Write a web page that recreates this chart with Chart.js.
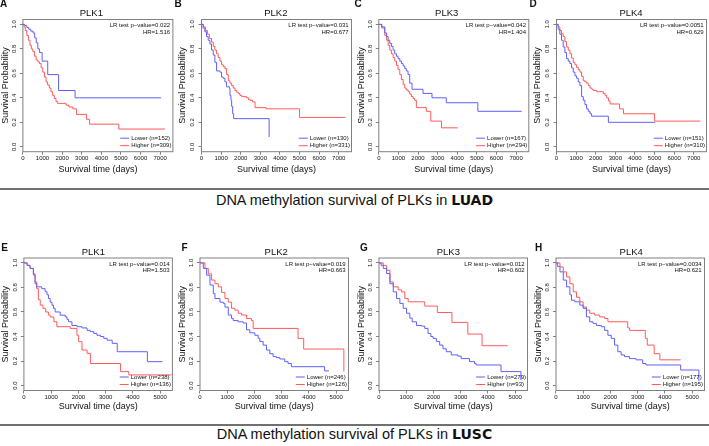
<!DOCTYPE html>
<html><head><meta charset="utf-8">
<script src="https://cdn.jsdelivr.net/npm/chart.js@4.4.0/dist/chart.umd.min.js"></script>
<style>
html,body{margin:0;padding:0;background:#fff;}
body{width:709px;height:446px;position:relative;overflow:hidden;font-family:'Liberation Sans',Arial,Helvetica,sans-serif;color:#111;}
canvas{position:absolute;}
.c{position:absolute;transform:translate(-50%,-50%);white-space:nowrap;line-height:1;}
.ttl{font-size:9.5px;}
.let{font-size:10px;font-weight:bold;}
.cap{position:absolute;left:0;width:709px;text-align:center;font-size:14.5px;line-height:16px;white-space:nowrap;}
.cap b{font-family:'DejaVu Sans',sans-serif;font-weight:bold;font-size:14px;}
.sep{position:absolute;left:0;width:709px;height:2px;background:#707070;}
</style></head><body>
<div class="sep" style="top:188px"></div>
<div class="cap" style="top:192px">DNA methylation survival of PLKs in <b>LUAD</b></div>
<div class="sep" style="top:424px"></div>
<div class="cap" style="top:426px">DNA methylation survival of PLKs in <b>LUSC</b></div>
<script>
// ---- tick labels ----
const yTicks = [0, 0.2, 0.4, 0.6, 0.8, 1.0];
const luadTicksX = [0, 1000, 2000, 3000, 4000, 5000, 6000, 7000];
const luscTicksX = [0, 1000, 2000, 3000, 4000, 5000];

// ---- panel labels & statistics ----
const panelLetters = ['A','B','C','D','E','F','G','H'];
const genes = ['PLK1','PLK2','PLK3','PLK4'];
const luadP = ['0.022','0.031','0.042','0.0051'];
const luadHR = ['1.516','0.677','1.404','0.629'];
const luadNLow = [152, 130, 167, 151];
const luadNHigh = [309, 331, 294, 310];
const luscP = ['0.014','0.019','0.012','0.0034'];
const luscHR = ['1.503','0.663','0.602','0.621'];
const luscNLow = [238, 246, 279, 177];
const luscNHigh = [136, 126, 93, 195];

// ---- Kaplan-Meier curves: [time (days), survival probability] ----
const luadPlk1Low = [[0,1],[100,0.99],[200,0.975],[300,0.96],[400,0.945],[520,0.93],[600,0.89],[680,0.85],[760,0.80],[850,0.77],[980,0.70],[1265,0.59],[1820,0.46],[2660,0.40],[7050,0.40]];
const luadPlk1High = [[0,1],[60,0.98],[120,0.95],[200,0.91],[280,0.87],[360,0.83],[430,0.80],[506,0.78],[590,0.74],[675,0.71],[760,0.695],[843,0.68],[930,0.645],[1012,0.61],[1100,0.57],[1180,0.53],[1260,0.505],[1349,0.48],[1430,0.45],[1518,0.42],[1600,0.395],[1686,0.37],[1770,0.355],[2200,0.34],[2350,0.325],[2550,0.31],[2730,0.265],[3240,0.225],[3400,0.185],[4890,0.145],[7250,0.145]];
const luadPlk2Low = [[0,1],[80,0.97],[170,0.94],[256,0.90],[341,0.87],[427,0.84],[512,0.79],[598,0.75],[683,0.69],[768,0.62],[940,0.61],[1024,0.57],[1110,0.56],[1195,0.53],[1280,0.49],[1420,0.48],[1451,0.42],[1502,0.38],[1537,0.33],[1588,0.27],[1639,0.23],[3449,0.08]];
const luadPlk2High = [[0,1],[100,0.98],[200,0.95],[300,0.92],[400,0.885],[512,0.855],[600,0.82],[683,0.79],[768,0.76],[854,0.73],[940,0.70],[1024,0.67],[1110,0.655],[1195,0.64],[1280,0.59],[1366,0.54],[1450,0.52],[1537,0.50],[1620,0.48],[1707,0.46],[1800,0.445],[1878,0.435],[1960,0.42],[2049,0.41],[2300,0.40],[2400,0.385],[2476,0.38],[2600,0.367],[2732,0.32],[3300,0.31],[5000,0.24],[7340,0.24]];
const luadPlk3Low = [[0,1],[150,0.98],[305,0.93],[400,0.90],[475,0.87],[560,0.845],[644,0.82],[730,0.79],[813,0.76],[900,0.74],[983,0.72],[1070,0.70],[1153,0.68],[1240,0.66],[1322,0.64],[1400,0.62],[1490,0.59],[1576,0.52],[1695,0.47],[2254,0.436],[2712,0.40],[3441,0.36],[5050,0.29],[7288,0.29]];
const luadPlk3High = [[0,1],[150,0.97],[305,0.91],[400,0.87],[475,0.83],[560,0.79],[644,0.76],[730,0.73],[813,0.70],[900,0.665],[983,0.63],[1070,0.59],[1153,0.55],[1240,0.51],[1322,0.48],[1400,0.465],[1490,0.45],[1580,0.43],[1661,0.41],[1750,0.395],[1830,0.38],[1915,0.32],[2424,0.29],[2650,0.21],[3200,0.155],[4030,0.155]];
const luadPlk4Low = [[0,1],[85,0.96],[170,0.92],[256,0.87],[341,0.815],[427,0.77],[512,0.72],[600,0.70],[683,0.68],[768,0.645],[854,0.61],[940,0.58],[1024,0.56],[1110,0.53],[1195,0.50],[1280,0.41],[1366,0.38],[1450,0.345],[1537,0.31],[1620,0.29],[1707,0.27],[1790,0.25],[2646,0.20],[5036,0.20]];
const luadPlk4High = [[0,1],[85,0.98],[170,0.95],[256,0.925],[341,0.90],[427,0.86],[512,0.815],[600,0.79],[683,0.76],[768,0.725],[854,0.69],[940,0.67],[1024,0.65],[1110,0.63],[1195,0.61],[1280,0.575],[1366,0.54],[1450,0.53],[1537,0.52],[1620,0.50],[1707,0.48],[1800,0.47],[1878,0.46],[2049,0.45],[2390,0.435],[2480,0.42],[2561,0.40],[2650,0.375],[2732,0.35],[3210,0.31],[3415,0.27],[5003,0.21],[7340,0.21]];
const luscPlk1Low = [[0,1],[120,0.98],[225,0.955],[348,0.91],[409,0.83],[471,0.805],[655,0.79],[778,0.765],[850,0.74],[902,0.71],[963,0.68],[1030,0.655],[1086,0.63],[1148,0.60],[1332,0.574],[1517,0.56],[1580,0.54],[1640,0.52],[1763,0.49],[1948,0.48],[2132,0.47],[2317,0.45],[2440,0.44],[2563,0.425],[2680,0.41],[2809,0.40],[2930,0.385],[3055,0.37],[3240,0.344],[3425,0.276],[4532,0.195],[5086,0.195]];
const luscPlk1High = [[0,1],[120,0.98],[225,0.955],[348,0.90],[409,0.845],[471,0.79],[530,0.70],[600,0.656],[700,0.63],[800,0.60],[900,0.575],[963,0.56],[1100,0.52],[1210,0.48],[1700,0.466],[1948,0.41],[2010,0.358],[2132,0.29],[2317,0.263],[2440,0.18],[3548,0.114],[3850,0.087],[5420,0.087]];
const luscPlk2Low = [[0,1],[122,0.955],[244,0.90],[366,0.82],[488,0.75],[549,0.71],[732,0.68],[854,0.67],[915,0.64],[1037,0.575],[1159,0.547],[1220,0.53],[1402,0.52],[1585,0.51],[1707,0.455],[1829,0.43],[2012,0.41],[2134,0.385],[2195,0.36],[2317,0.33],[2439,0.29],[2561,0.26],[2683,0.236],[2805,0.228],[2927,0.217],[3110,0.195],[3232,0.18],[3354,0.154],[4573,0.12],[4732,0.12]];
const luscPlk2High = [[0,1],[183,0.955],[305,0.91],[427,0.86],[549,0.83],[671,0.805],[793,0.76],[915,0.71],[1037,0.68],[1159,0.63],[1280,0.615],[1402,0.59],[1524,0.575],[1707,0.547],[1890,0.53],[1951,0.466],[3598,0.385],[3805,0.298],[5280,0.114]];
const luscPlk3Low = [[0,1],[80,0.98],[158,0.955],[280,0.913],[401,0.83],[523,0.764],[645,0.71],[766,0.67],[888,0.63],[1010,0.59],[1131,0.55],[1217,0.52],[1375,0.49],[1557,0.485],[1679,0.466],[1800,0.425],[1900,0.40],[1983,0.385],[2105,0.36],[2226,0.33],[2348,0.30],[2470,0.276],[2652,0.25],[2895,0.24],[3017,0.22],[3321,0.195],[3504,0.18],[3564,0.168],[4477,0.114],[5207,0.046]];
const luscPlk3High = [[0,1],[158,0.98],[280,0.94],[401,0.845],[523,0.805],[706,0.78],[827,0.764],[949,0.71],[1070,0.683],[1679,0.648],[2141,0.596],[2676,0.515],[3260,0.42],[3783,0.325],[4720,0.325]];
const luscPlk4Low = [[0,1],[60,0.97],[146,0.927],[267,0.86],[388,0.805],[510,0.74],[570,0.696],[692,0.683],[874,0.656],[995,0.63],[1117,0.56],[1238,0.52],[1359,0.507],[1481,0.49],[1663,0.48],[1784,0.45],[1905,0.41],[2027,0.385],[2148,0.33],[2269,0.276],[2391,0.25],[2512,0.236],[2694,0.22],[2937,0.21],[3180,0.18],[3301,0.168],[4575,0.127],[5243,0.035]];
const luscPlk4High = [[0,1],[146,0.967],[267,0.927],[388,0.886],[510,0.83],[631,0.764],[752,0.72],[874,0.683],[995,0.64],[1117,0.615],[1238,0.59],[1420,0.575],[1602,0.56],[1784,0.547],[1905,0.52],[2633,0.47],[2700,0.45],[3277,0.385],[3350,0.33],[3604,0.26],[3811,0.21],[4575,0.21]];

// ---- layout (positions / styles) ----
const FONT = "'Liberation Sans', Arial, Helvetica, sans-serif";
const BLUE = '#5f5fff', RED = '#ff5a5a', INK = '#111', FRAME = '#808080';
const rows = [
  {cTop:0, cH:178, bTop:19.5, bBot:151.7, bW:150, xmax:7650, xTicks:luadTicksX, xtPad:3.1, titleY:13.3, letterY:3.6},
  {cTop:240, cH:175, bTop:258, bBot:390.5, bW:148.5, xmax:5450, xTicks:luscTicksX, xtPad:2.9, titleY:251.7, letterY:248.4}
];
const panels = [
  {row:0, g:0, boxL:22.9, yw:22.6, titleX:91.3, letterX:3.7, low:luadPlk1Low, high:luadPlk1High},
  {row:0, g:1, boxL:201.5, yw:23.9, titleX:275.8, letterX:178, low:luadPlk2Low, high:luadPlk2High},
  {row:0, g:2, boxL:378.8, yw:23.1, titleX:446.7, letterX:358, low:luadPlk3Low, high:luadPlk3High},
  {row:0, g:3, boxL:556.5, yw:23.9, titleX:631, letterX:533.2, low:luadPlk4Low, high:luadPlk4High},
  {row:1, g:0, boxL:23.9, yw:23.6, titleX:93.3, letterX:4.5, low:luscPlk1Low, high:luscPlk1High},
  {row:1, g:1, boxL:200, yw:22.9, titleX:276.2, letterX:184.5, low:luscPlk2Low, high:luscPlk2High},
  {row:1, g:2, boxL:379, yw:22.7, titleX:448.3, letterX:364, low:luscPlk3Low, high:luscPlk3High},
  {row:1, g:3, boxL:556, yw:23.2, titleX:631.2, letterX:538.7, low:luscPlk4Low, high:luscPlk4High}
];

const framePlugin = {
  id: 'frame',
  beforeDatasetsDraw(chart) {
    const {ctx, chartArea: a} = chart;
    ctx.save();
    ctx.strokeStyle = FRAME; ctx.lineWidth = 1;
    ctx.strokeRect(a.left, a.top, a.right - a.left, a.bottom - a.top);
    ctx.restore();
  }
};
function kmInfoPlugin(info) {
  return {
    id: 'kminfo',
    afterDatasetsDraw(chart) {
      const {ctx, chartArea: a} = chart;
      ctx.save();
      ctx.font = '6px ' + FONT;
      ctx.fillStyle = INK;
      ctx.textBaseline = 'middle';
      ctx.textAlign = 'right';
      ctx.fillText('LR test p\u2212value=' + info.p, a.right - 2.8, a.top + 6);
      ctx.fillText('HR=' + info.hr, a.right - 2.8, a.top + 12.6);
      const l1 = 'Lower (n=' + info.nl + ')', l2 = 'Higher (n=' + info.nh + ')';
      const w = Math.max(ctx.measureText(l1).width, ctx.measureText(l2).width);
      const tx = a.right - 1.5 - w;
      const y1 = a.bottom - 13.5, y2 = a.bottom - 6;
      ctx.textAlign = 'left';
      ctx.fillText(l1, tx, y1);
      ctx.fillText(l2, tx, y2);
      ctx.lineWidth = 1;
      ctx.strokeStyle = BLUE;
      ctx.beginPath(); ctx.moveTo(tx - 11, y1); ctx.lineTo(tx - 2, y1); ctx.stroke();
      ctx.strokeStyle = RED;
      ctx.beginPath(); ctx.moveTo(tx - 11, y2); ctx.lineTo(tx - 2, y2); ctx.stroke();
      ctx.restore();
    }
  };
}

function addText(cls, text, x, y) {
  const d = document.createElement('div');
  d.className = 'c ' + cls;
  d.textContent = text;
  d.style.left = x + 'px';
  d.style.top = y + 'px';
  document.body.appendChild(d);
}

panels.forEach((p, i) => {
  const r = rows[p.row];
  const luad = p.row === 0;
  const info = {
    p: (luad ? luadP : luscP)[p.g], hr: (luad ? luadHR : luscHR)[p.g],
    nl: (luad ? luadNLow : luscNLow)[p.g], nh: (luad ? luadNHigh : luscNHigh)[p.g]
  };
  const startX = p.boxL - p.yw;
  const cLeft = Math.max(0, Math.floor(startX));
  const padL = startX - cLeft;
  const cW = Math.min(709 - cLeft, Math.ceil(p.boxL + r.bW + 2 - cLeft));
  const padR = cW - (p.boxL - cLeft + r.bW);
  const cv = document.createElement('canvas');
  cv.width = cW; cv.height = r.cH;
  cv.style.left = cLeft + 'px'; cv.style.top = r.cTop + 'px';
  cv.style.width = cW + 'px'; cv.style.height = r.cH + 'px';
  document.body.appendChild(cv);

  addText('ttl', genes[p.g], p.titleX, r.titleY);
  addText('let', panelLetters[i], p.letterX, r.letterY);

  const xH = r.cTop + r.cH - r.bBot;
  new Chart(cv, {
    type: 'line',
    data: {
      datasets: [
        {label: 'Lower', data: p.low.map(d => ({x: d[0], y: d[1]})), borderColor: BLUE, borderWidth: 1,
         pointRadius: 0, stepped: 'before', fill: false},
        {label: 'Higher', data: p.high.map(d => ({x: d[0], y: d[1]})), borderColor: RED, borderWidth: 1,
         pointRadius: 0, stepped: 'before', fill: false}
      ]
    },
    options: {
      responsive: false, animation: false, devicePixelRatio: 1, events: [],
      layout: {padding: {left: padL, right: padR, top: r.bTop - r.cTop, bottom: 0}},
      plugins: {legend: {display: false}, tooltip: {enabled: false}, title: {display: false}},
      scales: {
        x: {
          type: 'linear', min: 0, max: r.xmax,
          afterBuildTicks: s => { s.ticks = r.xTicks.map(v => ({value: v})); },
          afterFit: s => { s.height = xH; },
          ticks: {font: {size: 6, family: FONT}, color: INK, padding: 0.5, autoSkip: false,
                  maxRotation: 0, minRotation: 0, callback: v => String(v)},
          grid: {drawOnChartArea: false, drawTicks: true, tickLength: 3, tickColor: FRAME, color: FRAME},
          border: {display: false},
          title: {display: true, text: 'Survival time (days)', color: INK,
                  font: {size: 9, family: FONT}, padding: {top: 0, bottom: r.xtPad}}
        },
        y: {
          type: 'linear', min: -0.04, max: 1.04,
          afterBuildTicks: s => { s.ticks = yTicks.map(v => ({value: v})); },
          afterFit: s => { s.width = p.yw; },
          ticks: {font: {size: 6, family: FONT}, color: INK, padding: 1.5, autoSkip: false,
                  minRotation: 90, maxRotation: 90, crossAlign: 'center', callback: v => v.toFixed(1)},
          grid: {drawOnChartArea: false, drawTicks: true, tickLength: 3, tickColor: FRAME, color: FRAME},
          border: {display: false},
          title: {display: true, text: 'Survival Probability', color: INK,
                  font: {size: 9, family: FONT}, padding: {top: 0, bottom: 0}}
        }
      }
    },
    plugins: [framePlugin, kmInfoPlugin(info)]
  });
});
</script>
</body></html>
